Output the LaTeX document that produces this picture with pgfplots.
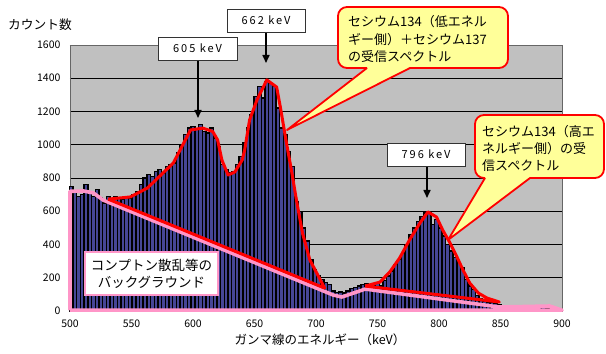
\documentclass[border=0pt]{standalone}
\usepackage{fontspec}
\setmainfont{Noto Sans CJK JP}
\newfontfamily\lsfont[LetterSpace=18]{Noto Sans CJK JP}
\usepackage{pgfplots}
\pgfplotsset{compat=1.18}
\usepackage{pgfplotstable}
\usetikzlibrary{arrows.meta}
\definecolor{bgray}{RGB}{192,192,192}
\definecolor{barblue}{RGB}{70,70,150}
\definecolor{cpink}{RGB}{255,150,200}
\definecolor{cyellow}{RGB}{255,255,153}

\pgfplotstableread{
E C
501 750
504 720
507 690
510 700
513 760
516 710
519 690
522 730
525 680
528 650
531 690
534 670
537 690
540 680
543 670
546 690
549 680
552 700
555 720
558 760
561 800
564 820
567 810
570 840
573 850
576 830
579 870
582 880
585 890
588 950
591 1000
594 1060
597 1100
600 1110
603 1090
606 1120
609 1080
612 1070
615 1100
618 1040
621 990
624 880
627 850
630 830
633 840
636 880
639 930
642 1010
645 1100
648 1180
651 1290
654 1350
657 1280
660 1380
663 1370
666 1350
669 1220
672 1100
675 1060
678 960
681 870
684 660
687 600
690 500
693 420
696 310
699 250
702 210
705 190
708 170
711 160
714 120
717 110
720 115
723 108
726 120
729 135
732 140
735 150
738 160
741 165
744 160
747 150
750 165
753 150
756 185
759 210
762 240
765 280
768 310
771 350
774 400
777 460
780 500
783 540
786 570
789 590
792 590
795 520
798 550
801 500
804 450
807 400
810 360
813 320
816 290
819 260
822 190
825 150
828 130
831 95
834 75
837 60
840 55
843 50
846 45
849 35
852 30
855 25
858 22
861 20
864 18
867 20
870 18
873 22
876 20
879 18
882 20
885 22
888 18
891 15
894 12
897 10
}\spectrum

\begin{document}
\begin{tikzpicture}
\begin{axis}[
  scale only axis,
  width=492bp, height=266bp,
  xmin=500, xmax=900, ymin=0, ymax=1600,
  xtick={500,550,...,900},
  ytick={0,200,...,1600},
  major tick length=0pt,
  ymajorgrids,
  grid style={black, line width=0.7bp},
  axis background/.style={fill=bgray},
  axis line style={draw=black!60, line width=0.6bp},
  /pgf/number format/assume math mode=true,
  /pgf/number format/1000 sep={},
  tick label style={font=\fontsize{10.5bp}{12bp}\selectfont},
  xticklabel style={yshift=-5bp},
  yticklabel style={xshift=-6bp},
  clip=false,
]
\addplot[ybar, bar width=3, bar shift=0pt, fill=barblue, draw=black, line width=1.4bp] table[x=E, y=C] {\spectrum};
% background (pink)
\addplot[cpink, line width=3.6bp, line join=round, mark=none] coordinates {
(500,5) (500,720) (511,722) (519,710) (527,667) (714,96) (721,84) (740,132) (849,24) (890,30) (900,5) (500,5)};
% red outline 1
\addplot[red, line width=3bp, line join=round, mark=none] coordinates {
(531,673) (549,686) (563,740) (584,890) (598,1089) (608,1100) (616,1080) (620,1029) (623.5,908) (628.5,818) (634,836) (640,908) (642,968) (646,1149) (652,1269) (660,1390) (668,1347) (671,1227) (676,1010) (680,848) (684.5,650) (689,469) (695,307) (698,265) (707,138) (531,673)};
% red outline 2
\addplot[red, line width=3bp, line join=round, mark=none] coordinates {
(740,150) (752,174) (760,235) (768,319) (776,427) (784.5,529) (791,596) (798,565) (803,487) (809,409) (814.6,325) (819.5,247) (825,168) (832,108) (839,78) (849,54) (740,150)};
\end{axis}
\path[use as bounding box] (-70bp,-43bp) rectangle (536bp,311bp);
% axis titles
\node[font=\fontsize{12.7bp}{14bp}\selectfont] at (-30bp,286bp) {カウント数};
\node[font=\fontsize{12.5bp}{14bp}\selectfont] at (250bp,-29bp) {ガンマ線のエネルギー（keV）};
% keV markers
\draw[line width=1.6bp, -{Triangle[width=7bp,length=8bp]}] (128bp,251bp) -- (128bp,193bp);
\node[draw=black!80, fill=white, line width=0.6bp, minimum width=79bp, minimum height=23bp, inner sep=0pt, font=\lsfont\fontsize{11bp}{12bp}\selectfont] at (127.5bp,262.5bp) {605 keV};
\draw[line width=1.6bp, -{Triangle[width=7bp,length=8bp]}] (196bp,279bp) -- (196bp,248bp);
\node[draw=black!80, fill=white, line width=0.6bp, minimum width=78bp, minimum height=23bp, inner sep=0pt, font=\lsfont\fontsize{11bp}{12bp}\selectfont] at (196bp,290.5bp) {662 keV};
\draw[line width=1.6bp, -{Triangle[width=7bp,length=8bp]}] (357bp,145bp) -- (357bp,113bp);
\node[draw=black!80, fill=white, line width=0.6bp, minimum width=78bp, minimum height=23bp, inner sep=0pt, font=\lsfont\fontsize{11bp}{12bp}\selectfont] at (356bp,156.5bp) {796 keV};
% callout 1
\path[fill=cyellow, draw=red, line width=1.8bp, line join=round]
  (297bp,243bp) -- (217bp,181bp) -- (340bp,243bp)
  [rounded corners=9bp] -- (438bp,243bp) -- (438bp,304bp) -- (268bp,304bp) -- (268bp,243bp) -- (297bp,243bp);
\node[anchor=west, align=left, inner sep=0pt, font=\fontsize{13bp}{17.5bp}\selectfont] at (278bp,272bp) {セシウム134（低エネル\\ギー側）＋セシウム137\\の受信スペクトル};
% callout 2
\path[fill=cyellow, draw=red, line width=1.8bp, line join=round]
  (415bp,133bp) -- (378bp,71bp) -- (460bp,133bp)
  [rounded corners=9bp] -- (534bp,133bp) -- (534bp,196bp) -- (405bp,196bp) -- (405bp,133bp) -- (415bp,133bp);
\node[anchor=west, align=left, inner sep=0pt, font=\fontsize{13bp}{17bp}\selectfont] at (412bp,163bp) {セシウム134（高エ\\ネルギー側）の受\\信スペクトル};
% background label box
\node[draw=cpink, fill=white, line width=2.8bp, minimum width=133bp, minimum height=43bp, align=center, inner sep=0pt, font=\fontsize{13.5bp}{17bp}\selectfont] at (81.5bp,37.5bp) {コンプトン散乱等の\\バックグラウンド};
\end{tikzpicture}
\end{document}
